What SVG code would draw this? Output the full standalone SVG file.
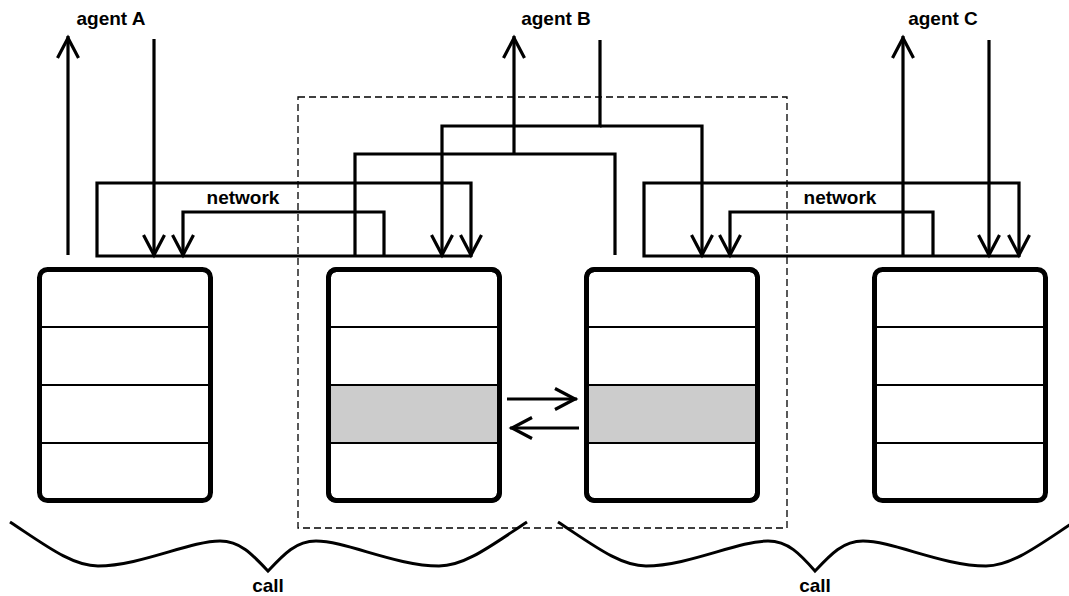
<svg xmlns="http://www.w3.org/2000/svg" width="1069" height="596" viewBox="0 0 1069 596">
<style>
.lbl{font-family:"Liberation Sans",Arial,sans-serif;font-weight:bold;font-size:19px;fill:#000;text-anchor:middle}
.box{fill:#fff;stroke:#000;stroke-width:5}
.div{stroke:#000;stroke-width:2}
.band{fill:#cccccc}
.con{fill:none;stroke:#000;stroke-width:3.2}
.arr{marker-end:url(#ah)}
.dash{fill:none;stroke:#000;stroke-width:1.3;stroke-dasharray:7 4}
.brace{fill:none;stroke:#000;stroke-width:3}
</style>
<defs>
<marker id="ah" markerUnits="userSpaceOnUse" markerWidth="40" markerHeight="40" viewBox="-30 -15 40 30" refX="0" refY="0" orient="auto" overflow="visible">
<path d="M -22 -10.5 L -2 0 L -22 10.5" fill="none" stroke="#000" stroke-width="3.2"/>
</marker>
</defs>
<rect class="dash" x="298" y="97" width="489" height="431"/>
<g id="boxA">
<rect class="box" x="39.5" y="269.5" width="171" height="231" rx="8"/>
<line class="div" x1="40" y1="327" x2="210" y2="327"/>
<line class="div" x1="40" y1="385" x2="210" y2="385"/>
<line class="div" x1="40" y1="443" x2="210" y2="443"/>
</g>
<g id="boxB1">
<rect class="box" x="328.5" y="269.5" width="171" height="231" rx="8"/>
<rect class="band" x="329" y="385" width="170" height="58"/>
<line class="div" x1="329" y1="327" x2="499" y2="327"/>
<line class="div" x1="329" y1="385" x2="499" y2="385"/>
<line class="div" x1="329" y1="443" x2="499" y2="443"/>
<rect x="328.5" y="269.5" width="171" height="231" rx="8" fill="none" stroke="#000" stroke-width="5"/>
</g>
<g id="boxB2">
<rect class="box" x="586.5" y="269.5" width="171" height="231" rx="8"/>
<rect class="band" x="587" y="385" width="170" height="58"/>
<line class="div" x1="587" y1="327" x2="757" y2="327"/>
<line class="div" x1="587" y1="385" x2="757" y2="385"/>
<line class="div" x1="587" y1="443" x2="757" y2="443"/>
<rect x="586.5" y="269.5" width="171" height="231" rx="8" fill="none" stroke="#000" stroke-width="5"/>
</g>
<g id="boxC">
<rect class="box" x="874.5" y="269.5" width="171" height="231" rx="8"/>
<line class="div" x1="875" y1="327" x2="1045" y2="327"/>
<line class="div" x1="875" y1="385" x2="1045" y2="385"/>
<line class="div" x1="875" y1="443" x2="1045" y2="443"/>
</g>
<g id="agentA"><text class="lbl" x="111" y="25">agent A</text></g>
<g id="agentB"><text class="lbl" x="556" y="25">agent B</text></g>
<g id="agentC"><text class="lbl" x="943" y="25">agent C</text></g>
<g id="networkA"><text class="lbl" x="243" y="204">network</text></g>
<g id="networkC"><text class="lbl" x="840" y="204">network</text></g>
<g id="callLeft">
<path class="brace" d="M 10 522 C 45 545, 72 566, 98 566 C 140 566, 190 541, 220 541 C 240 541, 252 554, 268 571 C 284 554, 296 541, 316 541 C 346 541, 396 566, 439 566 C 465 566, 492 545, 527 522"/>
<text class="lbl" x="268" y="592">call</text>
</g>
<g id="callRight">
<path class="brace" d="M 558 522 C 593 545, 620 566, 646 566 C 688 566, 738 541, 768 541 C 788 541, 800 554, 815 571 C 831 554, 843 541, 863 541 C 893 541, 943 566, 986 566 C 1012 566, 1039 545, 1074 522"/>
<text class="lbl" x="815" y="592">call</text>
</g>
<g id="connectors">
<path class="con arr" d="M 68 255 L 68 36"/>
<path class="con arr" d="M 154 39 L 154 257"/>
<path class="con arr" d="M 471 256 L 97 256 L 97 183 L 471 183 L 471 257"/>
<path class="con arr" d="M 384 256 L 384 212 L 183 212 L 183 257"/>
<path class="con" d="M 355 256 L 355 154 L 615 154 L 615 255"/>
<path class="con arr" d="M 514 154 L 514 36"/>
<path class="con arr" d="M 600 40 L 600 126 L 442 126 L 442 257"/>
<path class="con arr" d="M 600 126 L 702 126 L 702 257"/>
<path class="con arr" d="M 1019 256 L 644 256 L 644 183 L 1019 183 L 1019 257"/>
<path class="con arr" d="M 933 256 L 933 212 L 730 212 L 730 257"/>
<path class="con arr" d="M 903 255 L 903 36"/>
<path class="con arr" d="M 989 40 L 989 257"/>
<path class="con arr" d="M 507 399 L 577 399"/>
<path class="con arr" d="M 579 428 L 510 428"/>
</g>
</svg>
